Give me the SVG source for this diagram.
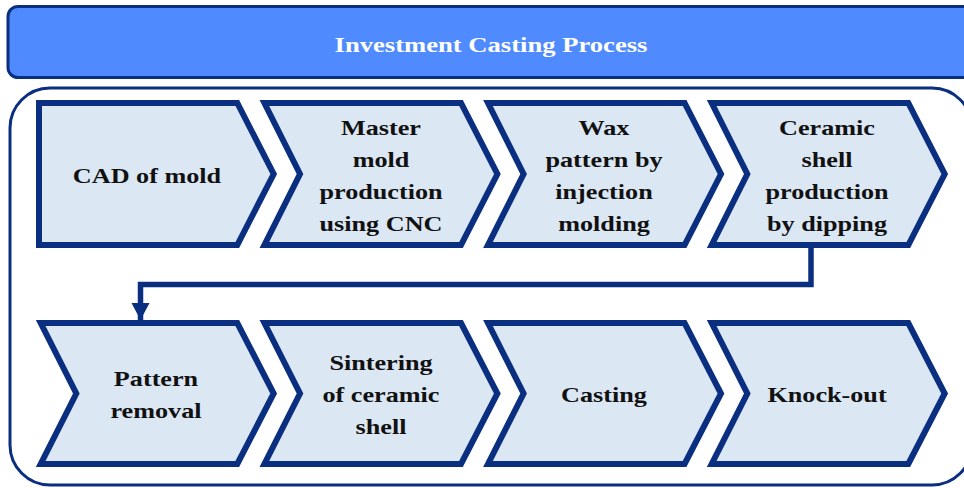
<svg xmlns="http://www.w3.org/2000/svg" width="964" height="488" viewBox="0 0 964 488">
  <style>
    .step { fill: #DCE7F4; stroke: #0B2F80; stroke-width: 6; stroke-linejoin: miter; }
    .label { font-family: "Liberation Serif", "Times New Roman", serif; font-weight: bold; font-size: 22px; fill: #111111; text-anchor: middle; }
    .title { font-family: "Liberation Serif", "Times New Roman", serif; font-weight: bold; font-size: 22px; fill: #FFFFFF; text-anchor: middle; }
    .frame { fill: #FFFFFF; stroke: #0B2F80; stroke-width: 3; }
    .link { fill: none; stroke: #0B2F80; stroke-width: 5.5; }
  </style>
  <defs>
    <marker id="arrow" markerUnits="userSpaceOnUse" markerWidth="20" markerHeight="20" viewBox="0 0 20 20" refX="17" refY="10" orient="auto">
      <path d="M0,1 L17,10 L0,19 Z" fill="#0B2F80"/>
    </marker>
  </defs>

  <rect width="964" height="488" fill="#FFFFFF"/>

  <!-- header bar -->
  <g id="header">
    <rect x="8" y="6.5" width="972" height="71" rx="10" fill="#4F8BFF" stroke="#0B2F80" stroke-width="3"/>
    <text class="title" transform="translate(491,52) scale(1.21,1)">Investment Casting Process</text>
  </g>

  <!-- rounded frame around the steps -->
  <g id="frame">
    <rect class="frame" x="10" y="88" width="962" height="397" rx="40"/>
  </g>

  <!-- connectors -->
  <g id="connectors">
    <path class="link" d="M811,245 V284.5 H140.5 V320" marker-end="url(#arrow)"/>
  </g>

  <!-- row 1 -->
  <g id="step-cad">
    <polygon class="step" points="39,103 237.3,103 273.7,174 237.3,245 39,245"/>
    <text class="label" transform="translate(147,183) scale(1.19,1)">CAD of mold</text>
  </g>
  <g id="step-master">
    <polygon class="step" points="264.4,103 461,103 497.4,174 461,245 264.4,245 300,174"/>
    <text class="label" transform="translate(381,135) scale(1.19,1)"><tspan x="0" y="0">Master</tspan><tspan x="0" y="32">mold</tspan><tspan x="0" y="64">production</tspan><tspan x="0" y="96">using CNC</tspan></text>
  </g>
  <g id="step-wax">
    <polygon class="step" points="488,103 684.6,103 721,174 684.6,245 488,245 523.6,174"/>
    <text class="label" transform="translate(604,135) scale(1.19,1)"><tspan x="0" y="0">Wax</tspan><tspan x="0" y="32">pattern by</tspan><tspan x="0" y="64">injection</tspan><tspan x="0" y="96">molding</tspan></text>
  </g>
  <g id="step-ceramic">
    <polygon class="step" points="711.7,103 908.3,103 944.7,174 908.3,245 711.7,245 747.3,174"/>
    <text class="label" transform="translate(827,135) scale(1.19,1)"><tspan x="0" y="0">Ceramic</tspan><tspan x="0" y="32">shell</tspan><tspan x="0" y="64">production</tspan><tspan x="0" y="96">by dipping</tspan></text>
  </g>

  <!-- row 2 -->
  <g id="step-pattern">
    <polygon class="step" points="40.7,323 237.3,323 273.7,393.5 237.3,464 40.7,464 76.3,393.5"/>
    <text class="label" transform="translate(156,386) scale(1.19,1)"><tspan x="0" y="0">Pattern</tspan><tspan x="0" y="32">removal</tspan></text>
  </g>
  <g id="step-sintering">
    <polygon class="step" points="264.4,323 461,323 497.4,393.5 461,464 264.4,464 300,393.5"/>
    <text class="label" transform="translate(381,370) scale(1.19,1)"><tspan x="0" y="0">Sintering</tspan><tspan x="0" y="32">of ceramic</tspan><tspan x="0" y="64">shell</tspan></text>
  </g>
  <g id="step-casting">
    <polygon class="step" points="488,323 684.6,323 721,393.5 684.6,464 488,464 523.6,393.5"/>
    <text class="label" transform="translate(604,402) scale(1.19,1)">Casting</text>
  </g>
  <g id="step-knockout">
    <polygon class="step" points="711.7,323 908.3,323 944.7,393.5 908.3,464 711.7,464 747.3,393.5"/>
    <text class="label" transform="translate(827,402) scale(1.19,1)">Knock-out</text>
  </g>
</svg>
